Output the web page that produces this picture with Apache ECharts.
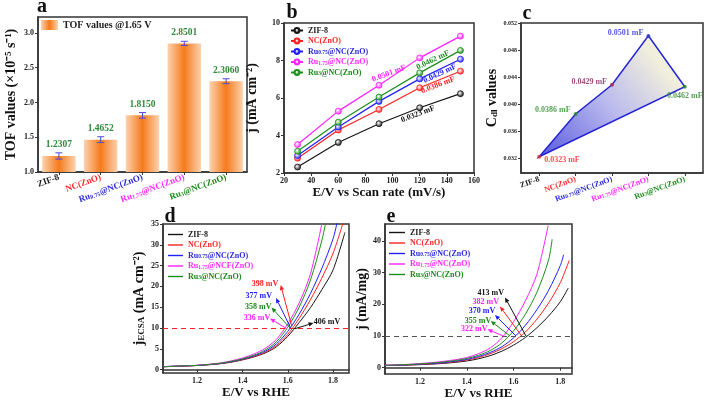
<!DOCTYPE html>
<html><head><meta charset="utf-8">
<script src="https://cdn.jsdelivr.net/npm/echarts@6/dist/echarts.min.js"></script>
<style>html,body{margin:0;padding:0;background:#fff}#c{width:709px;height:401px}</style>
</head><body><div id="c"></div>
<script>
const FONT = '"Liberation Serif","Times New Roman",serif';

// ---------- Panel a: TOF ----------
const tofCategories = ['ZIF-8', 'NC(ZnO)', 'Ru0.75@NC(ZnO)', 'Ru1.75@NC(ZnO)', 'Ru3@NC(ZnO)'];
const tofValues = [1.2307, 1.4652, 1.8150, 2.8501, 2.3060];
const tofErrors = [0.045, 0.042, 0.040, 0.030, 0.035];
const tofTicks = [1.0, 1.5, 2.0, 2.5, 3.0];

// ---------- Panel b: j vs scan rate ----------
const scanRates = [30, 60, 90, 120, 150];
const bZIF8 = [2.32, 3.63, 4.63, 5.48, 6.23];
const bNC = [2.79, 4.29, 5.39, 6.55, 7.43];
const bRu075 = [2.93, 4.45, 5.82, 7.02, 8.07];
const bRu175 = [3.52, 5.30, 6.68, 8.14, 9.30];
const bRu3 = [3.16, 4.71, 6.05, 7.34, 8.54];

// ---------- Panel c: Cdl ----------
const cdlValues = [0.0323, 0.0386, 0.0429, 0.0501, 0.0426];
const cdlLabels = ['0.0323 mF', '0.0386 mF', '0.0429 mF', '0.0501 mF', '0.0462 mF'];
const cdlTicks = [0.032, 0.036, 0.040, 0.044, 0.048, 0.052];

// ---------- Panel d: j_ECSA vs E (potential grid 1.05, 1.10, ... then curve end) ----------
const potentials = [1.05, 1.10, 1.15, 1.20, 1.25, 1.30, 1.35, 1.40, 1.45, 1.50, 1.55, 1.60, 1.65, 1.70, 1.75, 1.80];
const dZIF8 = [0.70, 0.80, 0.90, 1.00, 1.18, 1.42, 1.80, 2.35, 3.05, 4.00, 5.50, 8.00, 11.30, 14.90, 19.20, 24.00];
const dZIF8End = [1.852, 33.0];
const dNC = [0.70, 0.80, 0.90, 1.00, 1.18, 1.44, 1.83, 2.40, 3.15, 4.15, 5.80, 8.50, 12.30, 16.80, 22.00, 28.00];
const dNCEnd = [1.845, 35.5];
const dRu075 = [0.72, 0.82, 0.92, 1.02, 1.22, 1.48, 1.90, 2.50, 3.30, 4.40, 6.20, 9.20, 13.30, 18.30, 24.30, 31.50];
const dRu075End = [1.818, 35.5];
const dRu175 = [0.75, 0.83, 0.93, 1.05, 1.28, 1.60, 2.10, 2.80, 3.75, 5.10, 7.30, 11.00, 16.00, 23.00];
const dRu175End = [1.752, 35.5];
const dRu3 = [0.74, 0.82, 0.92, 1.03, 1.25, 1.52, 1.98, 2.60, 3.45, 4.70, 6.70, 10.20, 15.00, 21.50, 31.00];
const dRu3End = [1.768, 35.5];
const dTicksX = [1.2, 1.4, 1.6, 1.8];
const dTicksY = [0, 5, 10, 15, 20, 25, 30, 35];

// ---------- Panel e: j (mA/mg) vs E ----------
const eZIF8 = [0.65, 0.72, 0.82, 0.95, 1.12, 1.35, 1.68, 2.10, 2.80, 3.80, 5.20, 7.10, 9.50, 12.60, 16.30, 20.80];
const eZIF8End = [1.834, 25.1];
const eNC = [0.70, 0.77, 0.87, 1.00, 1.20, 1.48, 1.85, 2.40, 3.20, 4.40, 6.00, 8.20, 11.20, 15.30, 20.40, 26.80];
const eNCEnd = [1.838, 33.8];
const eRu075 = [0.70, 0.80, 0.93, 1.10, 1.30, 1.60, 2.02, 2.60, 3.50, 4.80, 6.60, 9.40, 13.30, 18.30, 24.40, 32.20];
const eRu075End = [1.814, 35.6];
const eRu175 = [0.80, 0.90, 1.05, 1.30, 1.60, 2.00, 2.50, 3.20, 4.40, 6.20, 9.40, 14.50, 21.00, 29.50];
const eRu175End = [1.748, 44.8];
const eRu3 = [0.75, 0.85, 1.00, 1.20, 1.45, 1.80, 2.25, 2.90, 3.90, 5.40, 7.80, 11.60, 16.80, 23.80, 34.00];
const eRu3End = [1.765, 40.5];
const eTicksX = [1.2, 1.4, 1.6, 1.8];
const eTicksY = [0, 10, 20, 30, 40];

const seriesNames = ['ZIF-8', 'NC(ZnO)', 'Ru0.75@NC(ZnO)', 'Ru1.75@NC(ZnO)', 'Ru3@NC(ZnO)'];
const dNames = ['ZIF-8', 'NC(ZnO)', 'Ru0.75@NC(ZnO)', 'Ru1.75@NCF(ZnO)', 'Ru3@NC(ZnO)'];
const lineColors = ['#151515', '#ff2020', '#2020ff', '#ff20ff', '#1a8f1a'];
const textColors = ['#1a1a1a', '#ff2a2a', '#2a2ad8', '#ff2aff', '#1a8a1a'];

// ---------- helpers ----------
const sub = s => s.replace(/Ru(0\.75|1\.75|3)@/, 'Ru{s|$1}@');
const richSub = fs => ({ s: { fontSize: fs, fontWeight: 'bold', fontFamily: FONT, verticalAlign: 'bottom' } });
const tickLbl = (fs) => ({ fontFamily: FONT, fontWeight: 'bold', fontSize: fs, color: '#222', margin: 4 });
const axLine = { show: true, lineStyle: { color: '#333', width: 1.5 } };
const axTick = (cv) => { const o = { show: true, length: 3, lineStyle: { color: '#333', width: 1 } }; if (cv) o.customValues = cv; return o; };
const nameStyle = (extra) => Object.assign({ fontFamily: FONT, fontWeight: 'bold', fontSize: 14, color: '#111' }, extra || {});
const toPairs = (vals, end) => vals.map((v, i) => [potentials[i], v]).concat([end]);

const chart = echarts.init(document.getElementById('c'), null, { renderer: 'canvas' });

const grids = [
  { left: 38, top: 17, width: 209, height: 155 },
  { left: 284, top: 23, width: 190, height: 150 },
  { left: 521, top: 23, width: 182, height: 150 },
  { left: 163, top: 224, width: 186, height: 149 },
  { left: 385, top: 224, width: 187, height: 150 }
].map(g => Object.assign(g, { show: true, borderColor: '#333', borderWidth: 1.5, backgroundColor: 'transparent', containLabel: false }));

const catAxisData = tofCategories.map((c, i) => ({ value: c, textStyle: { color: textColors[i] } }));

const xAxes = [
  { type: 'category', gridIndex: 0, data: catAxisData, axisLine: axLine, axisTick: Object.assign(axTick(), { alignWithLabel: true }),
    axisLabel: Object.assign(tickLbl(9), { rotate: 20, interval: 0, formatter: sub, rich: richSub(6), margin: 5 }) },
  { type: 'value', gridIndex: 1, min: 20, max: 160, interval: 20, axisLine: axLine, axisTick: axTick(), splitLine: { show: false },
    axisLabel: tickLbl(8), name: 'E/V vs Scan rate (mV/s)', nameLocation: 'middle', nameGap: 13, nameTextStyle: nameStyle({ verticalAlign: 'top', fontSize: 13 }) },
  { type: 'category', gridIndex: 2, data: catAxisData, axisLine: axLine, axisTick: Object.assign(axTick(), { alignWithLabel: true }),
    axisLabel: Object.assign(tickLbl(8), { rotate: 20, interval: 0, formatter: sub, rich: richSub(5.5), margin: 6 }) },
  { type: 'value', gridIndex: 3, min: 1.05, max: 1.87, axisLine: axLine, axisTick: axTick(dTicksX), splitLine: { show: false },
    axisLabel: Object.assign(tickLbl(8), { customValues: dTicksX, formatter: v => v.toFixed(1) }),
    name: 'E/V vs RHE', nameLocation: 'middle', nameGap: 12, nameTextStyle: nameStyle({ verticalAlign: 'top', fontSize: 13 }) },
  { type: 'value', gridIndex: 4, min: 1.05, max: 1.85, axisLine: axLine, axisTick: axTick(eTicksX), splitLine: { show: false },
    axisLabel: Object.assign(tickLbl(8), { customValues: eTicksX, formatter: v => v.toFixed(1) }),
    name: 'E/V vs RHE', nameLocation: 'middle', nameGap: 12, nameTextStyle: nameStyle({ verticalAlign: 'top', fontSize: 13 }) }
];

const yAxes = [
  { type: 'value', gridIndex: 0, min: 1.0, max: 3.23, axisLine: axLine, axisTick: axTick(tofTicks), splitLine: { show: false },
    axisLabel: Object.assign(tickLbl(8), { customValues: tofTicks, formatter: v => v.toFixed(1) }),
    name: 'TOF values (×10⁻⁵ s⁻¹)', nameLocation: 'middle', nameRotate: 90, nameGap: 20, nameTextStyle: nameStyle() },
  { type: 'value', gridIndex: 1, min: 2, max: 10, interval: 2, axisLine: axLine, axisTick: axTick(), splitLine: { show: false },
    axisLabel: tickLbl(8), name: 'j (mA cm⁻²)', nameLocation: 'middle', nameRotate: 90, nameGap: 25, nameTextStyle: nameStyle() },
  { type: 'value', gridIndex: 2, min: 0.0299, max: 0.052, axisLine: axLine, axisTick: axTick(cdlTicks), splitLine: { show: false },
    axisLabel: Object.assign(tickLbl(6), { customValues: cdlTicks, formatter: v => v.toFixed(3) }),
    name: 'C{s|dl} values', nameLocation: 'middle', nameRotate: 90, nameGap: 22,
    nameTextStyle: nameStyle({ rich: { s: { fontSize: 9, fontWeight: 'bold', fontFamily: FONT, verticalAlign: 'bottom', color: '#111' } } }) },
  { type: 'value', gridIndex: 3, min: -0.8, max: 35, axisLine: axLine, axisTick: axTick(dTicksY), splitLine: { show: false },
    axisLabel: Object.assign(tickLbl(8), { customValues: dTicksY }),
    name: 'j{s|ECSA} (mA cm⁻²)', nameLocation: 'middle', nameRotate: 90, nameGap: 17,
    nameTextStyle: nameStyle({ rich: { s: { fontSize: 9, fontWeight: 'bold', fontFamily: FONT, verticalAlign: 'bottom', color: '#111' } } }) },
  { type: 'value', gridIndex: 4, min: -2, max: 45.3, axisLine: axLine, axisTick: axTick(eTicksY), splitLine: { show: false },
    axisLabel: Object.assign(tickLbl(8), { customValues: eTicksY }),
    name: 'j (mA/mg)', nameLocation: 'middle', nameRotate: 90, nameGap: 14, nameTextStyle: nameStyle() }
];

const barGrad = new echarts.graphic.LinearGradient(0, 0, 1, 0, [
  { offset: 0, color: '#fcd2ae' }, { offset: 0.5, color: '#f57a1c' }, { offset: 1, color: '#fcd2ae' }
]);

const series = [];
series.push({
  type: 'bar', name: 'TOF values @1.65 V', xAxisIndex: 0, yAxisIndex: 0, data: tofValues, barWidth: '80%',
  itemStyle: { color: barGrad },
  label: { show: true, position: 'top', distance: 6, formatter: p => p.value.toFixed(4), color: '#2e8b3a', fontWeight: 'bold', fontSize: 9.5, fontFamily: FONT }
});
series.push({
  type: 'custom', xAxisIndex: 0, yAxisIndex: 0, silent: true, z: 5,
  data: tofValues.map((v, i) => [i, v, tofErrors[i]]),
  encode: { x: 0, y: 1 },
  renderItem: (params, api) => {
    const i = api.value(0), v = api.value(1), e = api.value(2);
    const t = api.coord([i, v + e]), b = api.coord([i, v - e]);
    const w = 3.5, st = { stroke: '#4b4bd6', lineWidth: 1 };
    return { type: 'group', children: [
      { type: 'line', shape: { x1: t[0], y1: t[1], x2: b[0], y2: b[1] }, style: st },
      { type: 'line', shape: { x1: t[0] - w, y1: t[1], x2: t[0] + w, y2: t[1] }, style: st },
      { type: 'line', shape: { x1: b[0] - w, y1: b[1], x2: b[0] + w, y2: b[1] }, style: st }
    ] };
  }
});

const bArrays = [bZIF8, bNC, bRu075, bRu175, bRu3];
bArrays.forEach((arr, k) => {
  series.push({
    type: 'line', name: 'b' + k, xAxisIndex: 1, yAxisIndex: 1,
    data: scanRates.map((x, i) => [x, arr[i]]),
    symbol: 'circle', symbolSize: 6,
    lineStyle: { color: lineColors[k], width: 1.2 },
    itemStyle: { color: new echarts.graphic.RadialGradient(0.4, 0.4, 0.6, [{ offset: 0, color: '#ffffff' }, { offset: 1, color: lineColors[k] }]), borderColor: lineColors[k], borderWidth: 0.8 }
  });
});

const cdlColorsPt = ['#e03030', '#2a8a2a', '#b02050', '#3030d0', '#2a8a2a'];
const cdlColorsTxt = ['#ff2020', '#2a8a2a', '#8a2060', '#2a2ad0', '#2a8a2a'];
const cdlLabelPos = [
  { position: 'right', distance: 3, offset: [0, 3] },
  { position: 'left', distance: 3, offset: [0, -4] },
  { position: 'left', distance: 3, offset: [0, -3] },
  { position: 'left', distance: 3, offset: [0, -3] },
  { position: 'bottom', distance: 3, offset: [0, 0] }
];
series.push({
  type: 'custom', xAxisIndex: 2, yAxisIndex: 2, silent: true, data: [[0, cdlValues[0]]],
  encode: { x: 0, y: 1 },
  renderItem: (params, api) => {
    const pts = cdlValues.map((v, i) => api.coord([i, v]));
    pts.push(pts[0]);
    return { type: 'polygon', shape: { points: pts },
      style: { fill: new echarts.graphic.LinearGradient(0, 1, 1, 0, [
        { offset: 0, color: '#5858df' }, { offset: 0.45, color: '#b9b9ee' }, { offset: 0.8, color: '#f1efdc' }, { offset: 1, color: '#fbf8df' }
      ]), stroke: '#2424d6', lineWidth: 1.5 } };
  }
});
series.push({
  type: 'scatter', xAxisIndex: 2, yAxisIndex: 2, symbolSize: 4, z: 6,
  data: cdlValues.map((v, i) => ({
    value: [i, v], itemStyle: { color: cdlColorsPt[i] },
    label: Object.assign({ show: true, formatter: cdlLabels[i], color: cdlColorsTxt[i], fontWeight: 'bold', fontSize: 8, fontFamily: FONT }, cdlLabelPos[i])
  }))
});

const dCurves = [toPairs(dZIF8, dZIF8End), toPairs(dNC, dNCEnd), toPairs(dRu075, dRu075End), toPairs(dRu175, dRu175End), toPairs(dRu3, dRu3End)];
dCurves.forEach((arr, k) => {
  const s = { type: 'line', name: 'd' + k, xAxisIndex: 3, yAxisIndex: 3, data: arr, symbol: 'none', smooth: 0.3,
    lineStyle: { color: lineColors[k], width: 1 }, itemStyle: { color: lineColors[k] }, z: 3 };
  if (k === 0) s.markLine = { silent: true, symbol: 'none', label: { show: false }, lineStyle: { color: '#ff2020', type: [5, 4], width: 1.2 }, data: [{ yAxis: 10 }] };
  series.push(s);
});
const eCurves = [toPairs(eZIF8, eZIF8End), toPairs(eNC, eNCEnd), toPairs(eRu075, eRu075End), toPairs(eRu175, eRu175End), toPairs(eRu3, eRu3End)];
eCurves.forEach((arr, k) => {
  const s = { type: 'line', name: 'e' + k, xAxisIndex: 4, yAxisIndex: 4, data: arr, symbol: 'none', smooth: 0.3,
    lineStyle: { color: lineColors[k], width: 1 }, itemStyle: { color: lineColors[k] }, z: 3 };
  if (k === 0) s.markLine = { silent: true, symbol: 'none', label: { show: false }, lineStyle: { color: '#555', type: [5, 4], width: 1.2 }, data: [{ yAxis: 10 }] };
  series.push(s);
});

const legText = (fs) => ({ fontFamily: FONT, fontWeight: 'bold', fontSize: fs, lineHeight: 9, rich: richSub(5.5) });
const mkLegend = (prefix, names, left, top, iw, ih, gap, icon) => ({
  orient: 'vertical', left: left, top: top, itemWidth: iw, itemHeight: ih, itemGap: gap, padding: 0, selectedMode: false,
  data: names.map((n, k) => { const d = { name: prefix + k, textStyle: { color: textColors[k] } }; if (icon) d.icon = icon; return d; }),
  formatter: name => sub(names[+name.slice(1)]),
  textStyle: legText(8)
});

const legends = [
  { left: 41, top: 20, itemWidth: 17, itemHeight: 10, padding: 0, selectedMode: false, icon: 'rect',
    data: ['TOF values @1.65 V'], textStyle: { fontFamily: FONT, fontWeight: 'bold', fontSize: 10, color: '#222' } },
  mkLegend('b', seriesNames, 290, 26, 12, 6, 1.5),
  mkLegend('d', dNames, 168, 230, 15, 1.4, 1.5, 'rect'),
  mkLegend('e', seriesNames, 389, 228, 16, 1.4, 1.5, 'rect')
];

// annotations
const annFont = { fontFamily: FONT, fontWeight: 'bold', fontSize: 8 };
function txt(t, x, y, color, rot, fs, align) {
  return { type: 'text', x: x, y: y, rotation: rot || 0, z: 100,
    style: Object.assign({}, annFont, { text: t, fill: color, align: align || 'center', verticalAlign: 'middle', fontSize: fs || 8 }) };
}
function arrow(x1, y1, x2, y2, color) {
  const ang = Math.atan2(y2 - y1, x2 - x1), L = 5, W = 2.2;
  const bx = x2 - L * Math.cos(ang), by = y2 - L * Math.sin(ang);
  const px = -Math.sin(ang) * W, py = Math.cos(ang) * W;
  return [
    { type: 'line', z: 100, shape: { x1: x1, y1: y1, x2: bx, y2: by }, style: { stroke: color, lineWidth: 1 } },
    { type: 'polygon', z: 100, shape: { points: [[x2, y2], [bx + px, by + py], [bx - px, by - py]] }, style: { fill: color } }
  ];
}
const graphics = [
  txt('a', 42, 7, '#111', 0, 20), txt('b', 292, 13, '#111', 0, 20), txt('c', 527, 14, '#111', 0, 20),
  txt('d', 170, 217, '#111', 0, 20), txt('e', 391, 217, '#111', 0, 20),
  txt('0.0501 mF', 389, 73.5, '#ff20ff', 0.36),
  txt('0.0462 mF', 433, 60, '#1a8a1a', 0.44),
  txt('0.0429 mF', 440, 73.5, '#2020ff', 0.44),
  txt('0.0386 mF', 438, 85, '#ff2020', 0.36),
  txt('0.0323 mF', 418, 114, '#111', 0.36),
  // d
  txt('398 mV', 265, 284, '#ff2020'), txt('377 mV', 258.7, 296, '#2020ff'), txt('358 mV', 258.3, 307, '#1a8a1a'),
  txt('336 mV', 257, 318.3, '#ff20ff'), txt('406 mV', 327, 322, '#111'),
  ...arrow(291.7, 326, 280.7, 285, '#ff2020'),
  ...arrow(290.7, 328, 276, 298, '#2020ff'),
  ...arrow(290, 328, 271.5, 307.5, '#1a8a1a'),
  ...arrow(286.7, 328.7, 270, 318.5, '#ff20ff'),
  ...arrow(295, 328.7, 313.5, 323, '#111'),
  // e
  txt('413 mV', 490.8, 293, '#111'), txt('382 mV', 485.8, 302, '#ff20ff'), txt('370 mV', 482, 311.3, '#2020ff'),
  txt('355 mV', 478, 320.7, '#1a8a1a'), txt('322 mV', 474.2, 329.3, '#ff20ff'),
  ...arrow(526, 336, 505, 297.5, '#111'),
  ...arrow(521.7, 336, 500, 306.5, '#ff2020'),
  ...arrow(516, 336, 495, 315, '#2020ff'),
  ...arrow(510, 336, 490.7, 321, '#1a8a1a'),
  ...arrow(503.3, 336, 487.5, 329.3, '#ff20ff')
];

chart.setOption({
  animation: false,
  backgroundColor: '#fff',
  textStyle: { fontFamily: FONT },
  grid: grids, xAxis: xAxes, yAxis: yAxes, series: series, legend: legends, graphic: graphics
});
</script></body></html>
